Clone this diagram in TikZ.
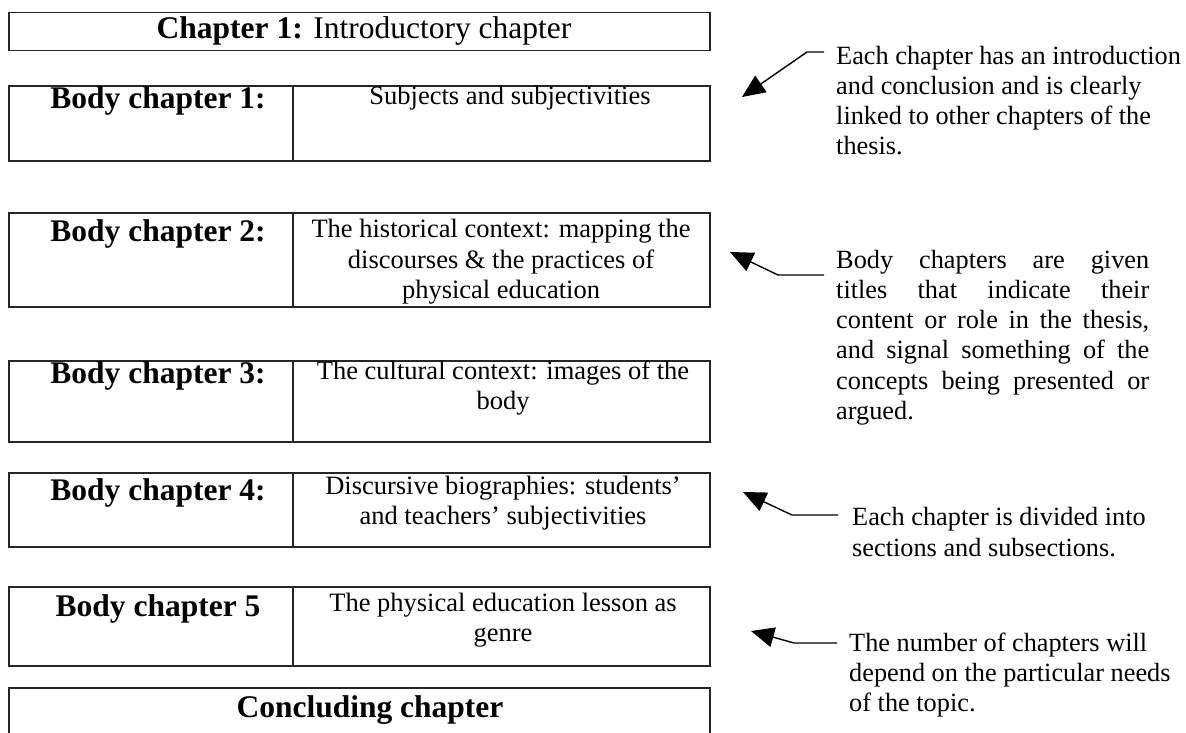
\documentclass[tikz,border=0pt]{standalone}
\usepackage{fontspec}
\setmainfont{Liberation Serif}
\usetikzlibrary{arrows.meta}
\tikzset{
  box/.style={draw=black!85, line width=1.1pt, minimum width=701pt, inner sep=0pt},
  head/.style={font=\fontsize{31.5}{36}\selectfont\bfseries, inner sep=0pt},
  ctext/.style={font=\fontsize{26.5}{30.5}\selectfont, align=center, inner sep=0pt},
  note/.style={font=\fontsize{26.3}{30.2}\selectfont, align=left, inner sep=0pt, anchor=west},
  divider/.style={draw=black!85, line width=1.1pt},
  arr/.style={draw=black, line width=1.4pt, -{Triangle[length=23pt,width=20pt]}}
}
\begin{document}
\begin{tikzpicture}[x=1pt,y=-1pt]
\useasboundingbox (0,0) rectangle (1186,733);
% boxes
\node[box, minimum height=38pt] (ch1) at (359.5,31.7) {};
\node[box, minimum height=75pt] (b1) at (359.5,123.5) {};
\node[box, minimum height=94pt] (b2) at (359.5,260) {};
\node[box, minimum height=81pt] (b3) at (359.5,401.5) {};
\node[box, minimum height=74pt] (b4) at (359.5,510) {};
\node[box, minimum height=79pt] (b5) at (359.5,626.5) {};
\node[box, minimum height=80pt] (cc) at (359.5,728) {};
% dividers
\foreach \b in {b1,b2,b3,b4,b5}{
  \draw[divider] (\b.north west -| 293,0) -- (\b.south west -| 293,0);
}
% texts
\node[inner sep=0pt, font=\fontsize{31.5}{36}\selectfont] (ch1t) at (364,31) {\textbf{Chapter 1:} Introductory chapter};
\node[head] (h1) at (158,101) {Body chapter 1:};
\node[ctext] (t1) at (510,98) {Subjects and subjectivities};
\node[head] (h2) at (158,234) {Body chapter 2:};
\node[ctext] (t2) at (501,262) {The historical context: mapping the\\discourses \& the practices of\\physical education};
\node[head] (h3) at (158,376) {Body chapter 3:};
\node[ctext] (t3) at (503,388) {The cultural context: images of the\\body};
\node[head] (h4) at (158,493) {Body chapter 4:};
\node[ctext] (t4) at (503,503) {Discursive biographies: students’\\and teachers’ subjectivities};
\node[head] (h5) at (158,609) {Body chapter 5};
\node[ctext] (t5) at (503,620) {The physical education lesson as\\genre};
\node[head] (cct) at (370,710) {Concluding chapter};
% notes
\node[note] (n1) at (836,100.5) {Each chapter has an introduction\\and conclusion and is clearly\\linked to other chapters of the\\thesis.};
\node[note] (n2) at (836,337.5) {\makebox[313pt][s]{Body chapters are given}\\\makebox[313pt][s]{titles that indicate their}\\\makebox[313pt][s]{content or role in the thesis,}\\\makebox[313pt][s]{and signal something of the}\\\makebox[313pt][s]{concepts being presented or}\\argued.};
\node[note] (n3) at (852,532) {Each chapter is divided into\\sections and subsections.};
\node[note] (n4) at (849,675) {The number of chapters will\\depend on the particular needs\\of the topic.};
% arrow coordinates
\coordinate (a1s) at (824,52); \coordinate (a1k) at (807,52); \coordinate (a1t) at (742,97);
\coordinate (a2s) at (824,275); \coordinate (a2k) at (778,275); \coordinate (a2t) at (730,252);
\coordinate (a3s) at (838,515); \coordinate (a3k) at (792,515); \coordinate (a3t) at (743,492);
\coordinate (a4s) at (837,643); \coordinate (a4k) at (794,643); \coordinate (a4t) at (751,631);
\draw[arr] (a1s) -- (a1k) -- (a1t);
\draw[arr] (a2s) -- (a2k) -- (a2t);
\draw[arr] (a3s) -- (a3k) -- (a3t);
\draw[arr] (a4s) -- (a4k) -- (a4t);
\end{tikzpicture}
\end{document}
